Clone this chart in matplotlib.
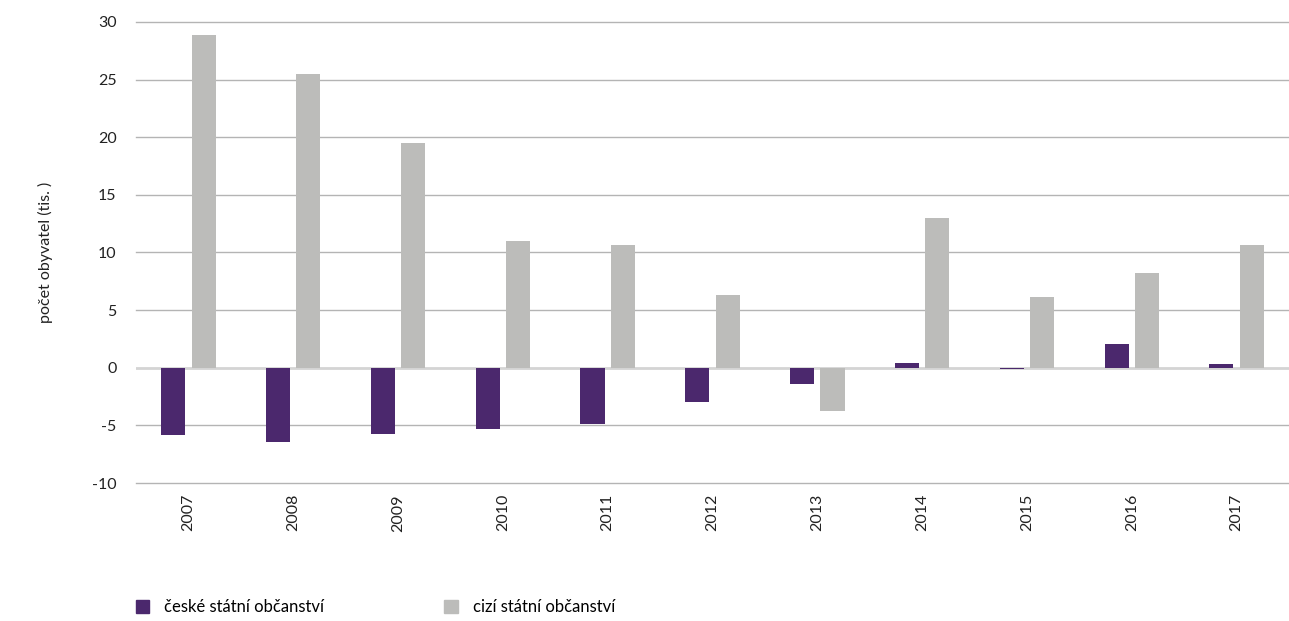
import matplotlib.pyplot as plt
import numpy as np
from matplotlib.patches import Patch

plt.rcParams['font.family'] = ['Lato', 'DejaVu Sans']
plt.rcParams['axes.unicode_minus'] = False

years = ['2007', '2008', '2009', '2010', '2011', '2012', '2013', '2014', '2015', '2016', '2017']
czech = [-5.85, -6.4, -5.75, -5.3, -4.85, -2.95, -1.4, 0.4, -0.1, 2.05, 0.3]
foreign = [28.85, 25.5, 19.5, 11.0, 10.65, 6.3, -3.75, 13.0, 6.15, 8.2, 10.65]

purple = '#4b286d'
grey = '#bcbcba'

fig = plt.figure(figsize=(12.89, 6.21), dpi=100)
ax = fig.add_axes([0.1055, 0.2222, 0.8945, 0.7424])

x = np.arange(len(years))
w = 0.23
ax.bar(x - 0.145, czech, w, color=purple, zorder=3)
ax.bar(x + 0.145, foreign, w, color=grey, zorder=3)

ax.set_xlim(-0.5, len(years) - 0.5)
ax.set_ylim(-10, 30)
ax.set_yticks(range(-10, 31, 5))
for v in range(-10, 31, 5):
    if v != 0:
        ax.axhline(v, color='#b4b4b4', linewidth=1, zorder=0, clip_on=False)
ax.axhline(0, color='#d4d4d4', linewidth=2, zorder=2)
ax.set_xticks(x)
ax.set_xticklabels(years, rotation=90, fontsize=11.5, color='#222222')
ax.tick_params(axis='y', labelsize=11.5, length=0, pad=14, labelcolor='#222222')
ax.tick_params(axis='x', length=0, pad=8)
for s in ax.spines.values():
    s.set_visible(False)
ax.set_ylabel('počet obyvatel (tis. )', fontsize=11.5, color='#222222', labelpad=28)

handles = [Patch(color=purple, label='české státní občanství'),
           Patch(color=grey, label='cizí státní občanství')]
fig.legend(handles=handles, loc='lower left', bbox_to_anchor=(0.094, -0.015), ncol=2,
           frameon=False, fontsize=12, handlelength=0.8, handleheight=0.8,
           handletextpad=0.9, columnspacing=7.2)

fig.savefig('out.png', dpi=100)
